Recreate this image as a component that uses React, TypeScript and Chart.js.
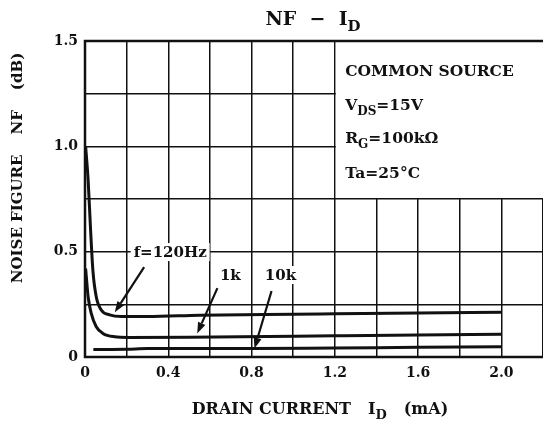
import React, { useEffect, useRef } from "react";
import { Chart, registerables } from "chart.js";

Chart.register(...registerables);

// ---- data ----
const current120 = [0.003, 0.015, 0.027, 0.038, 0.054, 0.078, 0.118, 0.175, 0.3, 0.55, 1.0, 1.2, 1.6, 2.0];
const nf120 = [1.0, 0.84, 0.6, 0.41, 0.286, 0.223, 0.2, 0.192, 0.192, 0.198, 0.203, 0.205, 0.209, 0.212];

const current1k = [0.003, 0.015, 0.03, 0.054, 0.086, 0.143, 0.207, 0.5, 0.75, 1.2, 1.6, 2.0];
const nf1k = [0.42, 0.286, 0.207, 0.144, 0.112, 0.096, 0.093, 0.094, 0.096, 0.101, 0.105, 0.108];

const current10k = [0.04, 0.2, 0.3, 0.8, 1.2, 1.6, 2.0];
const nf10k = [0.036, 0.037, 0.04, 0.04, 0.043, 0.046, 0.049];

const xTickLabels = ["0", "0.4", "0.8", "1.2", "1.6", "2.0"];
const yTickLabels = ["0", "0.5", "1.0", "1.5"];

const FONT = "'DejaVu Serif', serif";

type Seg = { t: string; sub?: boolean; gap?: number };

function drawSegs(ctx: CanvasRenderingContext2D, segs: Seg[], x: number, y: number, size: number, align: "left" | "center") {
  const main = `bold ${size}px ${FONT}`;
  const subf = `bold ${Math.round(size * 0.8)}px ${FONT}`;
  let total = 0;
  for (const s of segs) {
    ctx.font = s.sub ? subf : main;
    total += ctx.measureText(s.t).width + (s.gap || 0);
  }
  let cx = align === "center" ? x - total / 2 : x;
  ctx.textAlign = "left";
  ctx.textBaseline = "alphabetic";
  for (const s of segs) {
    ctx.font = s.sub ? subf : main;
    ctx.fillText(s.t, cx, s.sub ? y + size * 0.3 : y);
    cx += ctx.measureText(s.t).width + (s.gap || 0);
  }
}

const decorPlugin = {
  id: "decor",
  beforeDatasetsDraw(chart: any) {
    const { ctx, chartArea: a, scales } = chart;
    const xs = scales.x, ys = scales.y;
    ctx.save();
    // white box for conditions
    const bx = xs.getPixelForValue(1.2) + 1;
    const by = ys.getPixelForValue(0.75) - 1;
    ctx.fillStyle = "#fff";
    ctx.fillRect(bx, a.top, a.right - bx, by - a.top);
    ctx.fillStyle = "#111";
    const lx = xs.getPixelForValue(1.25);
    drawSegs(ctx, [{ t: "COMMON SOURCE" }], lx, ys.getPixelForValue(1.334), 15.5, "left");
    drawSegs(ctx, [{ t: "V" }, { t: "DS", sub: true }, { t: "=15V" }], lx, ys.getPixelForValue(1.172), 15.5, "left");
    drawSegs(ctx, [{ t: "R" }, { t: "G", sub: true }, { t: "=100kΩ" }], lx, ys.getPixelForValue(1.016), 15.5, "left");
    drawSegs(ctx, [{ t: "Ta=25°C" }], lx, ys.getPixelForValue(0.85), 15.5, "left");
    ctx.restore();
  },
  afterDatasetsDraw(chart: any) {
    const { ctx, chartArea: a, scales } = chart;
    const xs = scales.x, ys = scales.y;
    ctx.save();
    // frame
    ctx.strokeStyle = "#111";
    ctx.lineWidth = 2.5;
    ctx.strokeRect(a.left, a.top, a.right - a.left + 3, a.bottom - a.top);

    // labels with white background
    const labels = [
      { t: "f=120Hz", x: 0.409, y: 0.498 },
      { t: "1k", x: 0.698, y: 0.389 },
      { t: "10k", x: 0.939, y: 0.389 },
    ];
    ctx.font = `bold 15px ${FONT}`;
    for (const l of labels) {
      const px = xs.getPixelForValue(l.x), py = ys.getPixelForValue(l.y);
      const w = ctx.measureText(l.t).width;
      ctx.fillStyle = "#fff";
      ctx.fillRect(px - w / 2 - 3, py - 9, w + 6, 18);
      ctx.fillStyle = "#111";
      ctx.textAlign = "center";
      ctx.textBaseline = "middle";
      ctx.fillText(l.t, px, py + 1);
    }
    // arrows
    const arrows = [
      { x1: 0.284, y1: 0.427, x2: 0.143, y2: 0.212 },
      { x1: 0.636, y1: 0.327, x2: 0.539, y2: 0.112 },
      { x1: 0.896, y1: 0.313, x2: 0.814, y2: 0.04 },
    ];
    ctx.strokeStyle = "#111";
    ctx.fillStyle = "#111";
    ctx.lineWidth = 2.2;
    for (const r of arrows) {
      const x1 = xs.getPixelForValue(r.x1), y1 = ys.getPixelForValue(r.y1);
      const x2 = xs.getPixelForValue(r.x2), y2 = ys.getPixelForValue(r.y2);
      const ang = Math.atan2(y2 - y1, x2 - x1);
      const hl = 11, hw = 4;
      const bxp = x2 - hl * Math.cos(ang), byp = y2 - hl * Math.sin(ang);
      ctx.beginPath();
      ctx.moveTo(x1, y1);
      ctx.lineTo(bxp, byp);
      ctx.stroke();
      ctx.beginPath();
      ctx.moveTo(x2, y2);
      ctx.lineTo(bxp + hw * Math.sin(ang), byp - hw * Math.cos(ang));
      ctx.lineTo(bxp - hw * Math.sin(ang), byp + hw * Math.cos(ang));
      ctx.closePath();
      ctx.fill();
    }

    // title
    ctx.fillStyle = "#111";
    drawSegs(ctx, [{ t: "NF  −  I" }, { t: "D", sub: true }], 313, 25, 19, "center");
    // x title
    drawSegs(ctx, [{ t: "DRAIN CURRENT", gap: 17 }, { t: "I" }, { t: "D", sub: true, gap: 17 }, { t: "(mA)" }], 320, 414, 16, "center");
    // y title
    ctx.translate(22, 168);
    ctx.rotate(-Math.PI / 2);
    drawSegs(ctx, [{ t: "NOISE FIGURE", gap: 20 }, { t: "NF", gap: 20 }, { t: "(dB)" }], 0, 0, 15, "center");
    ctx.restore();
  },
};

function mk(xs: number[], ys: number[]) {
  return xs.map((x, i) => ({ x, y: ys[i] }));
}

export default function App() {
  const ref = useRef<HTMLCanvasElement>(null);
  useEffect(() => {
    const c = ref.current!;
    const line = { borderColor: "#111", borderWidth: 3, pointRadius: 0, cubicInterpolationMode: "monotone" as const, fill: false };
    const chart = new Chart(c, {
      type: "line",
      data: {
        datasets: [
          { label: "f=120Hz", data: mk(current120, nf120), ...line },
          { label: "1k", data: mk(current1k, nf1k), ...line },
          { label: "10k", data: mk(current10k, nf10k), ...line },
        ],
      },
      options: {
        animation: false,
        responsive: true,
        maintainAspectRatio: false,
        layout: { padding: { left: 0, right: 0, top: 41, bottom: 0 } },
        plugins: { legend: { display: false }, tooltip: { enabled: false }, title: { display: false } },
        scales: {
          x: {
            type: "linear",
            min: 0,
            max: 2.2,
            afterFit: (s: any) => { s.height = 424 - 357; s.paddingRight = 0; s.paddingLeft = 0; },
            border: { display: false },
            grid: { color: "#111", lineWidth: 1.5, drawTicks: false },
            ticks: {
              stepSize: 0.2,
              padding: 8,
              color: "#111",
              font: { family: FONT, size: 14, weight: "bold" },
              maxRotation: 0,
              autoSkip: false,
              callback: (v: any) => {
                const i = Math.round(Number(v) / 0.4 * 1000) / 1000;
                return Number.isInteger(i) && i < xTickLabels.length ? xTickLabels[i] : "";
              },
            },
          },
          y: {
            type: "linear",
            min: 0,
            max: 1.5,
            afterFit: (s: any) => { s.width = 85; s.paddingTop = 0; s.paddingBottom = 0; },
            border: { display: false },
            grid: { color: "#111", lineWidth: 1.5, drawTicks: false },
            ticks: {
              stepSize: 0.25,
              padding: 7,
              color: "#111",
              font: { family: FONT, size: 14, weight: "bold" },
              autoSkip: false,
              callback: (v: any) => {
                const i = Math.round(Number(v) / 0.5 * 1000) / 1000;
                return Number.isInteger(i) && i < yTickLabels.length ? yTickLabels[i] : "";
              },
            },
          },
        },
      },
      plugins: [decorPlugin],
    });
    return () => chart.destroy();
  }, []);
  return (
    <div style={{ position: "absolute", left: 0, top: 0, width: 543, height: 424, background: "#fff" }}>
      <canvas ref={ref} />
    </div>
  );
}
